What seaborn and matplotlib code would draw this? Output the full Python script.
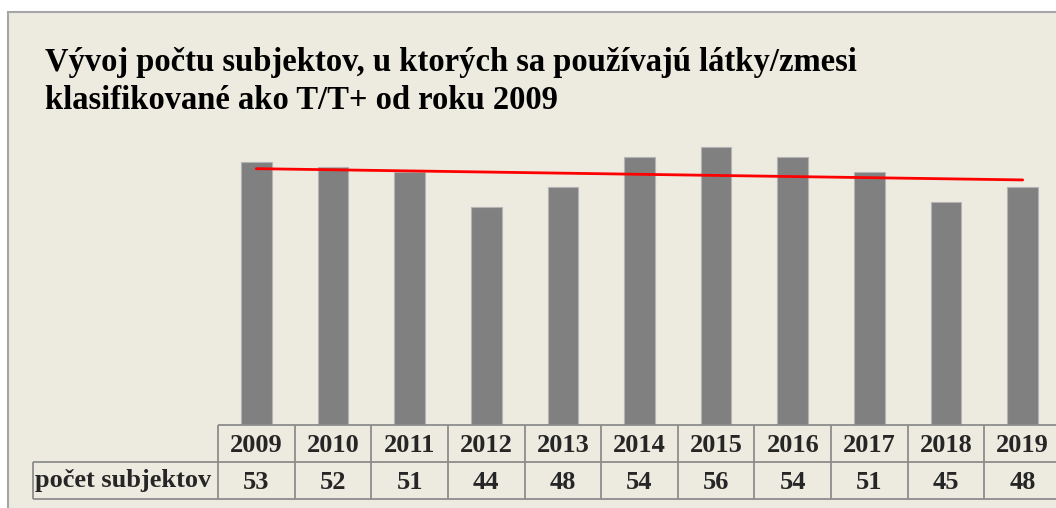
import numpy as np
import pandas as pd
import matplotlib
matplotlib.use('Agg')
import matplotlib.pyplot as plt
import seaborn as sns
from matplotlib.patches import Rectangle

# Data
years = ['2009', '2010', '2011', '2012', '2013', '2014', '2015', '2016', '2017', '2018', '2019']
counts = [53, 52, 51, 44, 48, 54, 56, 54, 51, 45, 48]
row_label = 'počet subjektov'
title_lines = ['Vývoj počtu subjektov, u ktorých sa používajú látky/zmesi',
               'klasifikované ako T/T+ od roku 2009']

df = pd.DataFrame({'rok': years, 'pocet': counts})

sns.set_theme(style='white')
plt.rcParams['font.family'] = ['Liberation Serif', 'DejaVu Serif']
plt.rcParams['font.weight'] = 'bold'

W, H = 1056, 508
bg = '#EDEAE0'
fig = plt.figure(figsize=(W / 100, H / 100), dpi=100, facecolor='white')

# chart area frame (behind the axes)
fig.patches.append(Rectangle((8 / W, -0.1), 1.2, 1 - 12 / H + 0.1, transform=fig.transFigure,
                             facecolor=bg, edgecolor='#A6A6A6', linewidth=1.5, zorder=-5))

# title
fig.text(45 / W, 1 - 71 / H, title_lines[0], fontsize=23.5, fontweight='bold', color='black')
fig.text(45 / W, 1 - 109 / H, title_lines[1], fontsize=23.5, fontweight='bold', color='black')

# bars
left, right = 218 / W, 1061 / W
ax = fig.add_axes([left, 1 - 425 / H, right - left, (425 - 140) / H])
ax.patch.set_alpha(0)
sns.barplot(data=df, x='rok', y='pocet', color='#808080', width=0.4, saturation=1,
            edgecolor='#B4B4B4', linewidth=0.8, ax=ax)

# linear trend
xi = np.arange(len(counts))
k, q = np.polyfit(xi, counts, 1)
ax.plot(xi, k * xi + q, color='#FF0000', linewidth=2.0, zorder=5)

ax.set_xlim(-0.5, len(years) - 0.5)
ax.set_ylim(0, 285 / 4.96)
ax.set_xlabel('')
ax.set_ylabel('')
ax.set_xticks([])
ax.set_yticks([])
for s in ax.spines.values():
    s.set_visible(False)

# data table under the bars
tax = fig.add_axes([left, 1 - 499 / H, right - left, 74 / H])
tax.patch.set_alpha(0)
tax.set_xlim(-0.5, len(years) - 0.5)
tax.set_ylim(2, 0)
tax.axis('off')
n = len(years)
lab_left = -0.5 - (218 - 33) / ((1061 - 218) / n)
lc, lw = '#8C8C8C', 1.3
fs = 19
tax.hlines(0, -0.5, n - 0.5, color=lc, lw=lw, clip_on=False)
tax.hlines([1, 2], lab_left, n - 0.5, color=lc, lw=lw, clip_on=False)
tax.vlines(np.arange(n + 1) - 0.5, 0, 2, color=lc, lw=lw, clip_on=False)
tax.vlines(lab_left, 1, 2, color=lc, lw=lw, clip_on=False)
for i, (yr, c) in enumerate(zip(years, counts)):
    tax.text(i, 0.55, yr, ha='center', va='center', fontsize=fs, fontweight='bold', clip_on=False)
    tax.text(i, 1.55, str(c), ha='center', va='center', fontsize=fs, fontweight='bold', clip_on=False)
tax.text(lab_left + 0.03, 1.5, row_label, ha='left', va='center', fontsize=fs, fontweight='bold')

fig.savefig('out.png', dpi=100, facecolor='white')
